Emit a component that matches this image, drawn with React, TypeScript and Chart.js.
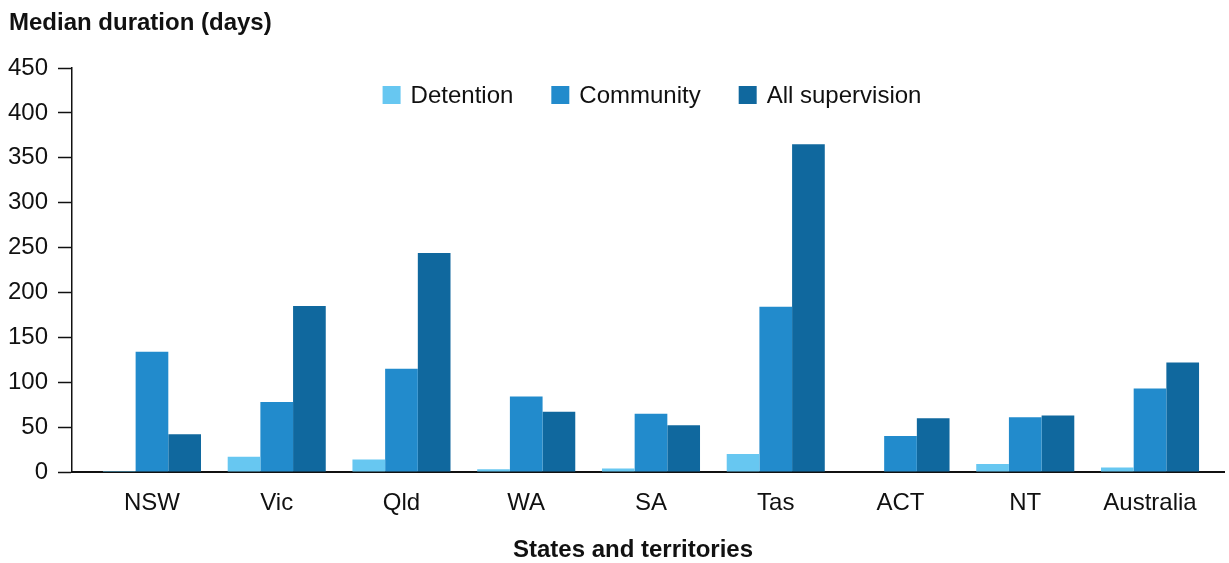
import React, { useEffect, useRef } from "react";
import { Chart, registerables } from "chart.js";

Chart.register(...registerables);

const categories = ["NSW", "Vic", "Qld", "WA", "SA", "Tas", "ACT", "NT", "Australia"];
const detention = [1, 17, 14, 3, 4, 20, 0.5, 9, 5];
const community = [134, 78, 115, 84, 65, 184, 40, 61, 93];
const allSupervision = [42, 185, 244, 67, 52, 365, 60, 63, 122];
const seriesNames = ["Detention", "Community", "All supervision"];
const seriesColors = ["#67C7F1", "#228BCC", "#10689E"];
const yTitle = "Median duration (days)";
const xTitle = "States and territories";
const yMin = 0;
const yMax = 450;
const yStep = 50;

const FONT = "'Liberation Sans', Arial, Helvetica, sans-serif";
const FONT_SIZE = 24;
const TEXT = "#111111";

const overlayPlugin = {
  id: "overlay",
  afterDraw(chart: any) {
    const ctx = chart.ctx;
    const area = chart.chartArea;
    ctx.save();
    ctx.font = `bold ${FONT_SIZE}px ${FONT}`;
    ctx.fillStyle = TEXT;
    ctx.textAlign = "left";
    ctx.textBaseline = "middle";
    ctx.fillText(yTitle, 9, 23);
    // x-axis title
    ctx.textAlign = "center";
    ctx.fillText(xTitle, (area.left + area.right) / 2 - 15, 550);
    // legend
    ctx.textAlign = "left";
    ctx.font = `${FONT_SIZE}px ${FONT}`;
    const box = 18;
    const gap = 10;
    const itemGap = 38;
    const widths = seriesNames.map((n) => box + gap + ctx.measureText(n).width);
    const total = widths.reduce((a, b) => a + b, 0) + itemGap * (widths.length - 1);
    let x = (area.left + area.right) / 2 + 4 - total / 2;
    const cy = 95;
    seriesNames.forEach((n, i) => {
      ctx.fillStyle = seriesColors[i];
      ctx.fillRect(x, cy - box / 2, box, box);
      ctx.fillStyle = TEXT;
      ctx.fillText(n, x + box + gap, cy + 1);
      x += widths[i] + itemGap;
    });
    ctx.restore();
  },
};

export default function App() {
  const ref = useRef<HTMLCanvasElement | null>(null);
  useEffect(() => {
    if (!ref.current) return;
    const series = [detention, community, allSupervision];
    const chart = new Chart(ref.current, {
      type: "bar",
      data: {
        datasets: series.map((vals, si) => ({
          label: seriesNames[si],
          data: vals.map((v, i) => ({ x: i, y: v })),
          backgroundColor: seriesColors[si],
          borderWidth: 0,
          categoryPercentage: 0.786,
          barPercentage: 1.0,
        })),
      },
      options: {
        animation: false,
        responsive: false,
        devicePixelRatio: 1,
        layout: { padding: { top: 68, right: 5, left: 0, bottom: 0 } },
        plugins: {
          legend: { display: false },
          title: { display: false },
          tooltip: { enabled: false },
        },
        scales: {
          x: {
            type: "linear",
            min: -0.641,
            max: 8.593,
            offset: false,
            bounds: "data",
            afterBuildTicks: (s: any) => {
              s.ticks = categories.map((_, i) => ({ value: i }));
            },
            ticks: {
              callback: (v: any) => categories[v] ?? "",
              font: { family: FONT, size: FONT_SIZE },
              color: TEXT,
              padding: 17,
              autoSkip: false,
              maxRotation: 0,
            },
            grid: { display: false, drawTicks: false, offset: false },
            border: { display: true, color: "#111", width: 2 },
            title: { display: false },
            afterFit: (s: any) => {
              s.height = 91;
            },
          },
          y: {
            min: yMin,
            max: yMax,
            ticks: {
              stepSize: yStep,
              font: { family: FONT, size: FONT_SIZE },
              color: TEXT,
              padding: 10,
            },
            grid: {
              drawOnChartArea: false,
              drawTicks: true,
              tickLength: 14,
              tickColor: "#111",
              tickWidth: 1.5,
            },
            border: { display: true, color: "#111", width: 1.5 },
            afterFit: (s: any) => {
              s.width = 72;
            },
          },
        },
      } as any,
      plugins: [overlayPlugin],
    });
    return () => chart.destroy();
  }, []);
  return (
    <div style={{ position: "absolute", left: 0, top: 0, width: 1229, height: 563, background: "#fff" }}>
      <canvas ref={ref} width={1229} height={563} />
    </div>
  );
}
